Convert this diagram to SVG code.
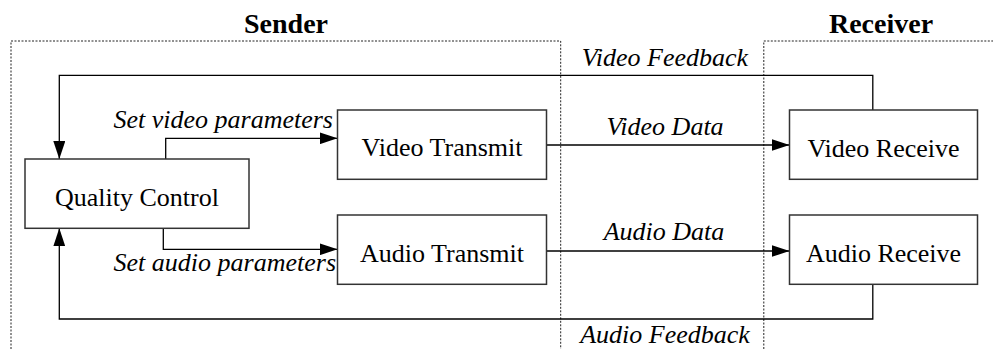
<svg xmlns="http://www.w3.org/2000/svg" width="993" height="349" viewBox="0 0 993 349">
<style>
text{font-family:"Liberation Serif","Times New Roman",serif;fill:#000}
.title{font-size:28px;font-weight:bold;text-anchor:middle}
.lbl{font-size:26px;text-anchor:middle}
.it{font-size:26px;font-style:italic}
.box{fill:#fff;stroke:#333;stroke-width:1.5}
.zone{fill:none;stroke:#222;stroke-width:1;stroke-dasharray:2,1.5}
.conn{fill:none;stroke:#000;stroke-width:1.3}
</style>
<defs>
<marker id="arr" viewBox="0 0 18 12" refX="18" refY="6" markerWidth="18" markerHeight="12" markerUnits="userSpaceOnUse" orient="auto">
<path d="M0,0 L18,6 L0,12 z" fill="#000"/>
</marker>
</defs>
<g id="zones">
<path class="zone" d="M11,349 V41 H560.7 V349"/>
<path class="zone" d="M763.8,349 V41 H993"/>
<text class="title" x="286" y="33">Sender</text>
<text class="title" x="881" y="33">Receiver</text>
</g>
<g id="connectors">
<path class="conn" d="M872.8,110 V75.3 H59.3 V159" marker-end="url(#arr)"/>
<path class="conn" d="M165.7,159 V138.3 H337.5" marker-end="url(#arr)"/>
<path class="conn" d="M546.5,145 H789.5" marker-end="url(#arr)"/>
<path class="conn" d="M163.3,228.3 V249.3 H337.5" marker-end="url(#arr)"/>
<path class="conn" d="M546.5,251 H789.5" marker-end="url(#arr)"/>
<path class="conn" d="M872.8,284.3 V319 H59.3 V228.3" marker-end="url(#arr)"/>
<text class="it" x="665" y="66" text-anchor="middle">Video Feedback</text>
<text class="it" x="665" y="135" text-anchor="middle">Video Data</text>
<text class="it" x="333" y="128" text-anchor="end">Set video parameters</text>
<text class="it" x="336" y="271" text-anchor="end">Set audio parameters</text>
<text class="it" x="664" y="240" text-anchor="middle">Audio Data</text>
<text class="it" x="665" y="343" text-anchor="middle">Audio Feedback</text>
</g>
<g id="quality-control">
<rect class="box" x="25" y="159" width="224" height="69.3"/>
<text class="lbl" x="137" y="206">Quality Control</text>
</g>
<g id="video-transmit">
<rect class="box" x="337.5" y="110" width="209" height="69.3"/>
<text class="lbl" x="442" y="156">Video Transmit</text>
</g>
<g id="audio-transmit">
<rect class="box" x="337.5" y="215" width="209" height="69.3"/>
<text class="lbl" x="442" y="261.7">Audio Transmit</text>
</g>
<g id="video-receive">
<rect class="box" x="789.5" y="110" width="188" height="69.3"/>
<text class="lbl" x="883.5" y="156.7">Video Receive</text>
</g>
<g id="audio-receive">
<rect class="box" x="789.5" y="215" width="188" height="69.3"/>
<text class="lbl" x="883.5" y="261.7">Audio Receive</text>
</g>
</svg>
